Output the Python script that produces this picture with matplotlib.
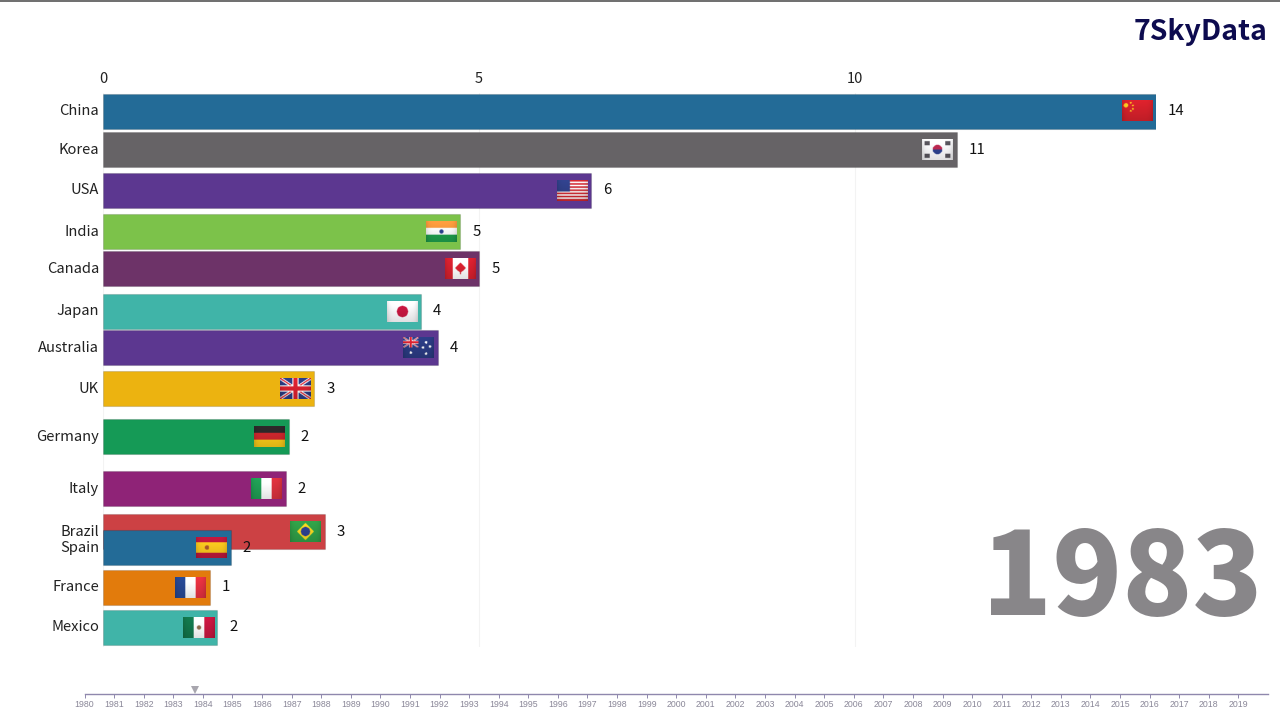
# Import libraries
import numpy as np
import matplotlib
matplotlib.use("Agg")
import matplotlib.pyplot as plt
from matplotlib.transforms import offset_copy

plt.rcParams['font.family'] = ['Noto Sans CJK JP', 'DejaVu Sans']

# Chart data
countries = ['China', 'Korea', 'USA', 'India', 'Canada', 'Japan', 'Australia', 'UK',
             'Germany', 'Italy', 'Brazil', 'Spain', 'France', 'Mexico']
# Bar length, rounded label and (in-between, animated) rank of every country
values = [14.0, 11.35, 6.49, 4.75, 5.0, 4.23, 4.45, 2.81, 2.47, 2.43, 2.95, 1.70, 1.42, 1.52]
labels = [14, 11, 6, 5, 5, 4, 4, 3, 2, 2, 3, 2, 1, 2]
ranks = [0, 0.98, 2.0, 3.04, 3.97, 5.04, 5.96, 7.0, 8.2, 9.52, 10.6, 11.0, 12.0, 13.0]
colors = ['#236b97', '#666366', '#5c3790', '#7cc24a', '#6d3368', '#40b4a8', '#5c3790',
          '#ecb310', '#159a56', '#8f2377', '#cc4144', '#236b97', '#e27b0c', '#40b4a8']
x_ticks = [0, 5, 10]
timeline_years = list(range(1980, 2020))
current_year = 1983
timeline_position = 1983.75

W, H = 1280, 720


# Flags are small RGB images, u and v run from 0 to 1 over the flag
def rgb(code):
    return np.array(matplotlib.colors.to_rgb(code))


def stripes(u, cols):
    idx = np.minimum((u * len(cols)).astype(int), len(cols) - 1)
    return np.array([rgb(c) for c in cols])[idx]


def make_flag(name):
    v, u = np.mgrid[0:1:40j, 0:1:60j]
    asp = 1.5
    if name == 'China':
        img = stripes(u, ['#d0202a'])
        img[(u - 0.12) ** 2 * asp ** 2 + (v - 0.25) ** 2 < 0.012] = rgb('#f6c520')
        for a, b in [(0.28, 0.12), (0.35, 0.25), (0.35, 0.42), (0.28, 0.52)]:
            img[(u - a) ** 2 * asp ** 2 + (v - b) ** 2 < 0.002] = rgb('#f6c520')
    elif name == 'Korea':
        img = stripes(u, ['#f4f4f6'])
        r2 = (u - 0.5) ** 2 * asp ** 2 + (v - 0.5) ** 2
        img[(r2 < 0.055) & (v < 0.5)] = rgb('#b8274f')
        img[(r2 < 0.055) & (v >= 0.5)] = rgb('#2b3f8c')
        for a, b in [(0.16, 0.2), (0.84, 0.2), (0.16, 0.8), (0.84, 0.8)]:
            img[(np.abs(u - a) < 0.08) & (np.abs(v - b) < 0.1)] = rgb('#55525a')
    elif name == 'USA':
        img = stripes(v, ['#c9262f', '#f4f4f4'] * 6 + ['#c9262f'])
        img[(u < 0.42) & (v < 0.54)] = rgb('#2f3f86')
    elif name == 'India':
        img = stripes(v, ['#f0943a', '#f6f6f6', '#1e9a4a'])
        img[(u - 0.5) ** 2 * asp ** 2 + (v - 0.5) ** 2 < 0.012] = rgb('#2b3f8c')
    elif name == 'Canada':
        img = stripes(u, ['#d4202e', '#f6f6f6', '#f6f6f6', '#d4202e'])
        leaf = (np.abs(u - 0.5) * asp + np.abs(v - 0.47) < 0.26) | ((np.abs(u - 0.5) < 0.025) & (v > 0.5) & (v < 0.78))
        img[leaf] = rgb('#d4202e')
    elif name == 'Japan':
        img = stripes(u, ['#f4f4f6'])
        img[(u - 0.5) ** 2 * asp ** 2 + (v - 0.5) ** 2 < 0.075] = rgb('#c2173f')
    elif name == 'Australia' or name == 'UK':
        img = stripes(u, ['#2a3a80'])
        s = 2.0 if name == 'Australia' else 1.0
        a, b = np.minimum(u * s, 1), np.minimum(v * s, 1)
        inside = (u * s <= 1) & (v * s <= 1)
        diag = (np.abs(a - b) < 0.09) | (np.abs(a + b - 1) < 0.09)
        img[inside & diag] = rgb('#f4f4f4')
        diag = (np.abs(a - b) < 0.035) | (np.abs(a + b - 1) < 0.035)
        img[inside & diag] = rgb('#d4202e')
        cross = (np.abs(a - 0.5) < 0.11) | (np.abs(b - 0.5) < 0.15)
        img[inside & cross] = rgb('#f4f4f4')
        cross = (np.abs(a - 0.5) < 0.065) | (np.abs(b - 0.5) < 0.09)
        img[inside & cross] = rgb('#d4202e')
        if name == 'Australia':
            for a, b in [(0.25, 0.75), (0.75, 0.25), (0.88, 0.45), (0.75, 0.8), (0.65, 0.5)]:
                img[(u - a) ** 2 * asp ** 2 + (v - b) ** 2 < 0.004] = rgb('#f4f4f4')
    elif name == 'Germany':
        img = stripes(v, ['#2b2728', '#c8262c', '#f2c418'])
    elif name == 'Italy':
        img = stripes(u, ['#1f9a52', '#f6f6f6', '#d4303c'])
    elif name == 'Brazil':
        img = stripes(u, ['#2f9a45'])
        img[np.abs(u - 0.5) * asp + np.abs(v - 0.5) < 0.42] = rgb('#f2d21e')
        img[(u - 0.5) ** 2 * asp ** 2 + (v - 0.5) ** 2 < 0.05] = rgb('#2b3f8c')
    elif name == 'Spain':
        img = stripes(v, ['#b8173a', '#f4c41e', '#f4c41e', '#b8173a'])
        img[(u - 0.35) ** 2 * asp ** 2 + (v - 0.5) ** 2 < 0.012] = rgb('#a8552a')
    elif name == 'France':
        img = stripes(u, ['#26468f', '#f6f6f6', '#e0303f'])
    else:
        img = stripes(u, ['#12744a', '#f6f6f6', '#c2173f'])
        img[(u - 0.5) ** 2 * asp ** 2 + (v - 0.5) ** 2 < 0.012] = rgb('#8a6a4a')
    # Soft shine, darker at the bottom and the sides
    shade = 1.08 - 0.16 * v - 0.12 * np.abs(2 * u - 1) ** 6
    return np.clip(img * shade[..., None], 0, 1)


fig = plt.figure(figsize=(W / 100, H / 100), dpi=100, facecolor='white')

# Thin dark line at the top edge of the video frame
fig.add_artist(plt.Line2D([0, 1], [0.9993, 0.9993], color='#555555', linewidth=1.2))

# Main bar chart, 14 units wide from pixel 103 to pixel 1156
ax = fig.add_axes([103 / W, 1 - 647 / H, (1156 - 103) / W, (647 - 93) / H])
x_scale = (1156 - 103) / 14
y_scale = 39.7

ax.barh(ranks, values, height=35 / y_scale, color=colors, edgecolor='#00000022',
        linewidth=0.8, zorder=2)

for i in range(len(countries)):
    # Flag sits just inside the end of the bar
    x0 = values[i] - 34.5 / x_scale
    x1 = values[i] - 3.5 / x_scale
    y0 = ranks[i] - 10.5 / y_scale
    y1 = ranks[i] + 10.5 / y_scale
    ax.imshow(make_flag(countries[i]), extent=[x0, x1, y1, y0], aspect='auto',
              interpolation='bilinear', zorder=3 + i * 0.01)
    ax.text(values[i] + 12 / x_scale, ranks[i], str(labels[i]), fontsize=10.8, color='#111111',
            ha='left', va='center', zorder=4)
    ax.text(-4 / x_scale, ranks[i], countries[i], fontsize=10.6, color='#222222',
            ha='right', va='center', zorder=4)

ax.set_xlim(0, 14)
ax.set_ylim((647 - 111) / y_scale, (93 - 111) / y_scale)
ax.set_yticks([])
ax.set_xticks(x_ticks)
ax.xaxis.tick_top()
ax.tick_params(axis='x', length=0, pad=5.2, labelsize=10.5, labelcolor='#222222')
ax.grid(axis='x', color='#f3f3f3', linewidth=0.8, zorder=0)
ax.set_axisbelow(True)
for side in ax.spines:
    ax.spines[side].set_visible(False)

# Logo and big year
fig.text(1267.5 / W, 1 - 40 / H, '7SkyData', fontsize=20.5, fontweight='bold', color='#0d0b4f',
         ha='right', va='baseline')
fig.text(1263 / W, 1 - 615 / H, str(current_year), fontsize=83, fontweight=900, color='#888689',
         ha='right', va='baseline')

# Timeline at the bottom
tl = fig.add_axes([84.5 / W, 1 - 693.5 / H, (1268 - 84.5) / W, 0.001])
tl.set_xlim(1980, 2020)
tl.set_ylim(0, 1)
tl.set_yticks([])
tl.set_xticks(timeline_years)
tl.set_xticklabels(timeline_years, family=['Liberation Sans', 'DejaVu Sans'])
tl.tick_params(axis='x', direction='out', length=2.9, width=0.7, color='#8f88ad', pad=1.6,
               labelsize=6.3, labelcolor='#8a8798')
for side in tl.spines:
    tl.spines[side].set_visible(False)
tl.spines['bottom'].set_visible(True)
tl.spines['bottom'].set_color('#8f88ad')
tl.spines['bottom'].set_linewidth(1.0)
marker_pos = offset_copy(tl.get_xaxis_transform(), fig=fig, x=0, y=3.5, units='dots')
tl.plot([timeline_position], [0], marker='v', markersize=5.2, color='#a8a6ae', clip_on=False,
        linestyle='none', transform=marker_pos, markeredgewidth=0)

fig.savefig('out.png', dpi=100)
